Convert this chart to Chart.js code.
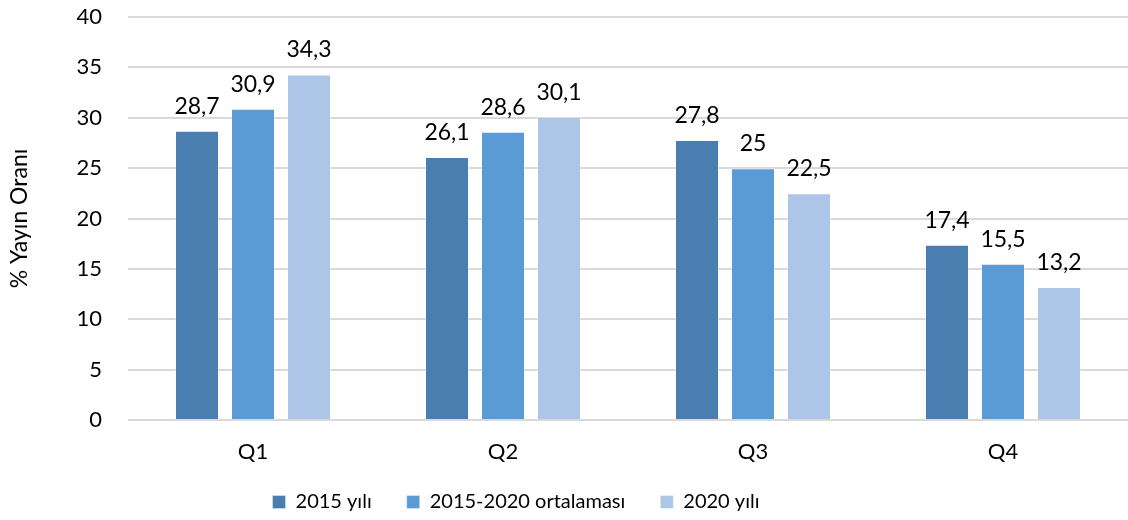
<!DOCTYPE html>
<html>
<head>
<meta charset="utf-8">
<script src="https://cdn.jsdelivr.net/npm/chart.js@4/dist/chart.umd.min.js"></script>
<style>
  html, body { margin: 0; padding: 0; background: #ffffff; }
  #wrap { width: 1128px; height: 520px; }
</style>
</head>
<body>
<div id="wrap"><canvas id="c" width="1128" height="520"></canvas></div>
<script>
const categories = ['Q1', 'Q2', 'Q3', 'Q4'];
const seriesNames = ['2015 yılı', '2015-2020 ortalaması', '2020 yılı'];
const values2015 = [28.7, 26.1, 27.8, 17.4];
const valuesAvg = [30.9, 28.6, 25, 15.5];
const values2020 = [34.3, 30.1, 22.5, 13.2];
const yTicks = [0, 5, 10, 15, 20, 25, 30, 35, 40];
const colors = ['#4A7EB1', '#5B9BD5', '#ADC6E7'];

const FONT = 'Lato, "Open Sans", sans-serif';

// Value labels above each bar, Turkish decimal comma
const barLabels = {
  id: 'barLabels',
  afterDatasetsDraw(chart) {
    const ctx = chart.ctx;
    ctx.save();
    ctx.font = '23px ' + FONT;
    ctx.fillStyle = '#000000';
    ctx.textAlign = 'center';
    ctx.textBaseline = 'alphabetic';
    chart.data.datasets.forEach((ds, di) => {
      const meta = chart.getDatasetMeta(di);
      meta.data.forEach((bar, i) => {
        const txt = String(ds.data[i]).replace('.', ',');
        ctx.fillText(txt, bar.x, bar.y - 17);
      });
    });
    ctx.restore();
  }
};

// Give the category labels room below the tight x-axis box, and set the legend a bit left of centre
const layoutTweaks = {
  id: 'layoutTweaks',
  afterLayout(chart) {
    const x = chart.scales.x;
    x.bottom = x.top + 70;
    const lg = chart.legend;
    lg.left -= 48;
    lg.right -= 48;
  }
};

new Chart(document.getElementById('c'), {
  type: 'bar',
  data: {
    labels: categories,
    datasets: [
      { label: seriesNames[0], data: values2015, backgroundColor: colors[0] },
      { label: seriesNames[1], data: valuesAvg, backgroundColor: colors[1] },
      { label: seriesNames[2], data: values2020, backgroundColor: colors[2] }
    ].map(d => Object.assign(d, { borderColor: 'rgba(255,255,255,0.35)', borderWidth: 1 }))
  },
  options: {
    responsive: false,
    animation: false,
    layout: { padding: { top: 17, right: 0, left: 0, bottom: -2 } },
    datasets: { bar: { categoryPercentage: 0.672, barPercentage: 0.786 } },
    scales: {
      x: {
        grid: { display: false },
        border: { display: false },
        ticks: { color: '#000', font: { family: FONT, size: 22 }, padding: 11 },
        afterFit(scale) { scale.height = 37; }
      },
      y: {
        min: 0, max: 40,
        afterBuildTicks(scale) { scale.ticks = yTicks.map(v => ({ value: v })); },
        grid: { color: '#D9D9D9', lineWidth: 2, drawTicks: true, tickLength: 24, tickColor: 'rgba(0,0,0,0)' },
        border: { display: false },
        ticks: { color: '#000', font: { family: FONT, size: 22 }, padding: 2 },
        title: {
          display: true, text: '% Yayın Oranı', color: '#000',
          font: { family: FONT, size: 23 }, padding: { top: 6, bottom: 0 }
        },
        afterFit(scale) { scale.width = 128; }
      }
    },
    plugins: {
      legend: {
        position: 'bottom',
        labels: {
          color: '#000', font: { family: FONT, size: 20 },
          boxWidth: 13, boxHeight: 13, padding: 35
        }
      },
      tooltip: { enabled: false }
    }
  },
  plugins: [barLabels, layoutTweaks]
});
</script>
</body>
</html>
